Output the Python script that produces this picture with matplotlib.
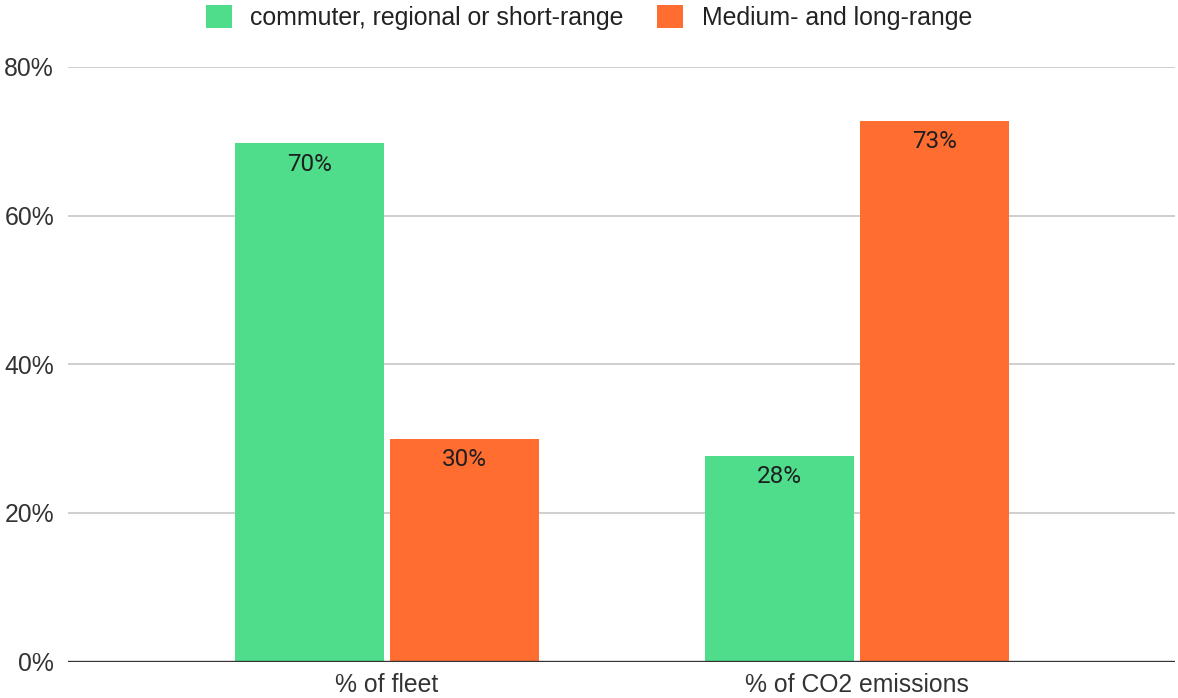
import matplotlib
matplotlib.use("Agg")
import matplotlib.pyplot as plt
import numpy as np
from matplotlib.patches import Patch

# data
categories = ["% of fleet", "% of CO2 emissions"]
series_names = ["commuter, regional or short-range", "Medium- and long-range"]
short_range = [69.8, 27.7]
long_range = [30.0, 72.8]
yticks = [0, 20, 40, 60, 80]

green = "#4fdd8c"
orange = "#ff6d31"

plt.rcParams['font.family'] = ['Liberation Sans', 'DejaVu Sans']

fig = plt.figure(figsize=(11.78, 6.98), dpi=100)
ax = fig.add_axes([68 / 1178, 36.5 / 698, 1107 / 1178, 594.5 / 698])

x = np.arange(len(categories))
w = 0.317
off = 0.165

b1 = ax.bar(x - off, short_range, width=w, color=green, zorder=3)
b2 = ax.bar(x + off, long_range, width=w, color=orange, zorder=3)

# value labels inside the bar tops
for bars, vals in ((b1, short_range), (b2, long_range)):
    for rect, v in zip(bars, vals):
        ax.annotate(f"{v:.0f}%", xy=(rect.get_x() + rect.get_width() / 2, v),
                    xytext=(0, -7), textcoords="offset points",
                    ha="center", va="top", fontsize=17.5, color="#1f1f1f",
                    family=["Roboto", "DejaVu Sans"], zorder=4)

ax.set_xlim(-0.679, 1.677)
ax.set_ylim(0, 80)
ax.set_yticks(yticks)
ax.set_yticklabels([f"{t}%" for t in yticks])
ax.set_xticks(x)
ax.set_xticklabels(categories)
ax.tick_params(axis="both", length=0, labelsize=17.8, labelcolor="#333333")
ax.tick_params(axis="y", pad=10)
ax.tick_params(axis="x", pad=8)

ax.grid(axis="y", color="#cccccc", linewidth=1.3, zorder=0)
ax.axhline(0, color="#333333", linewidth=2.4, zorder=5)
for s in ax.spines.values():
    s.set_visible(False)

handles = [Patch(facecolor=green, edgecolor="none"), Patch(facecolor=orange, edgecolor="none")]
fig.legend(handles, series_names, loc="upper center", bbox_to_anchor=(0.5, 1.025), ncol=2,
           frameon=False, fontsize=17.9, handlelength=1.05, handleheight=1.05,
           handletextpad=0.75, columnspacing=1.35, labelcolor="#222222")

fig.savefig("out.png", dpi=100)
